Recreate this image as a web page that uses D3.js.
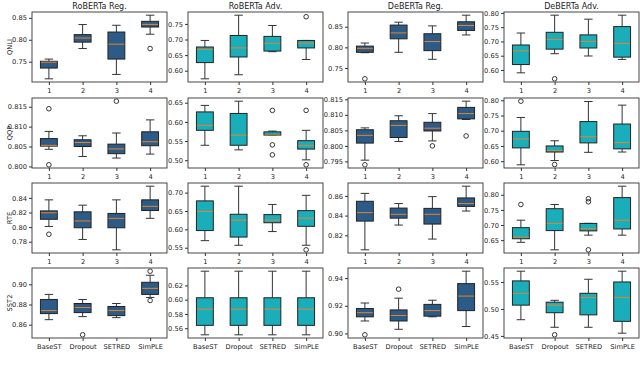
<!DOCTYPE html>
<html>
<head>
<meta charset="utf-8">
<script src="https://cdn.jsdelivr.net/npm/d3@7"></script>
<style>
  body { margin: 0; background: #fff; }
  svg { display: block; font-family: "DejaVu Sans", sans-serif; }
</style>
</head>
<body>
<svg id="chart" width="640" height="369"></svg>
<script>
// column titles, row labels, box labels
var models = ["RoBERTa Reg.", "RoBERTa Adv.", "DeBERTa Reg.", "DeBERTa Adv."];
var tasks = ["QNLI", "QQP", "RTE", "SST2"];
var methods = ["BaseST", "Dropout", "SETRED", "SimPLE"];
var numLabels = ["1", "2", "3", "4"];

// each box: [whisker low, q1, median, q3, whisker high], one panel per model
var qnliBoxes = [
  [[0.711,0.7355,0.749,0.751,0.756],[0.780,0.7946,0.804,0.8117,0.8346],[0.721,0.756,0.790,0.8176,0.833],[0.8126,0.829,0.835,0.842,0.856]],
  [[0.574,0.626,0.668,0.676,0.697],[0.587,0.644,0.673,0.713,0.778],[0.661,0.663,0.688,0.710,0.745],[0.636,0.673,0.688,0.697,0.697]],
  [[0.787,0.788,0.7976,0.803,0.8105],[0.788,0.8207,0.835,0.854,0.861],[0.771,0.792,0.814,0.833,0.852],[0.830,0.841,0.853,0.862,0.878]],
  [[0.590,0.619,0.667,0.6876,0.7295],[0.657,0.673,0.707,0.732,0.792],[0.649,0.677,0.700,0.723,0.778],[0.637,0.645,0.693,0.752,0.792]]
];
var qqpBoxes = [
  [[0.8043,0.8051,0.8053,0.8070,0.8088],[0.8025,0.8050,0.8060,0.8067,0.8077],[0.8021,0.8032,0.8044,0.8056,0.8084],[0.8031,0.8052,0.8062,0.8087,0.8117]],
  [[0.539,0.578,0.591,0.626,0.643],[0.527,0.539,0.5655,0.622,0.654],[0.5655,0.5655,0.5658,0.574,0.576],[0.501,0.529,0.538,0.551,0.578]],
  [[0.7954,0.8009,0.8034,0.8052,0.8058],[0.8014,0.8027,0.8066,0.8081,0.8097],[0.8016,0.8048,0.8057,0.8076,0.8104],[0.8085,0.8087,0.8104,0.8124,0.8144]],
  [[0.588,0.6436,0.673,0.698,0.7436],[0.602,0.630,0.635,0.650,0.667],[0.629,0.660,0.680,0.730,0.796],[0.630,0.6404,0.661,0.722,0.784]]
];
var rteBoxes = [
  [[0.8009,0.8107,0.8196,0.8222,0.8373],[0.7831,0.7991,0.8084,0.8209,0.830],[0.7689,0.7991,0.812,0.8187,0.8373],[0.812,0.8227,0.8284,0.8373,0.856]],
  [[0.5692,0.5967,0.649,0.6775,0.7175],[0.5567,0.579,0.6251,0.6411,0.7175],[0.594,0.618,0.6251,0.6402,0.6678],[0.5567,0.6083,0.6305,0.6509,0.6926]],
  [[0.8053,0.8344,0.843,0.8545,0.8625],[0.8304,0.8374,0.8413,0.8476,0.8522],[0.8162,0.8314,0.8413,0.8473,0.8592],[0.8446,0.8493,0.8522,0.8579,0.8698]],
  [[0.6428,0.6546,0.660,0.6914,0.716],[0.618,0.6816,0.7054,0.754,0.768],[0.6665,0.6806,0.688,0.7054,0.7054],[0.6665,0.687,0.716,0.7907,0.8285]]
];
var sst2Boxes = [
  [[0.865,0.871,0.874,0.885,0.890],[0.868,0.872,0.877,0.881,0.885],[0.867,0.869,0.874,0.878,0.881],[0.887,0.890,0.896,0.902,0.909]],
  [[0.5507,0.564,0.5867,0.6027,0.640],[0.5507,0.564,0.5867,0.6027,0.640],[0.5507,0.564,0.5867,0.6027,0.640],[0.5507,0.564,0.5867,0.6027,0.640]],
  [[0.909,0.912,0.915,0.918,0.922],[0.903,0.909,0.913,0.917,0.9255],[0.912,0.9125,0.9165,0.921,0.924],[0.905,0.9165,0.927,0.936,0.945]],
  [[0.480,0.507,0.529,0.552,0.570],[0.466,0.493,0.507,0.5125,0.516],[0.466,0.489,0.521,0.529,0.555],[0.455,0.477,0.521,0.550,0.570]]
];

// outliers: [box index, value]
var qnliOutliers = [[[3,0.780]], [[3,0.773]], [[0,0.7237]], [[1,0.569]]];
var qqpOutliers = [[[0,0.8145],[0,0.8004],[2,0.8164]], [[2,0.630],[2,0.540],[2,0.514],[3,0.630],[3,0.488]], [[0,0.7939],[2,0.8000],[3,0.8032]], [[0,0.797],[1,0.589]]];
var rteOutliers = [[[0,0.7902]], [[3,0.5443]], [], [[0,0.768],[2,0.787],[2,0.777],[2,0.618]]];
var sst2Outliers = [[[1,0.850],[3,0.913],[3,0.884]], [], [[0,0.899],[1,0.932]], [[1,0.452]]];

// y tick values per panel
var qnliTicks = [[0.75,0.80,0.85],[0.60,0.65,0.70,0.75],[0.75,0.80,0.85],[0.60,0.65,0.70,0.75,0.80]];
var qqpTicks = [[0.800,0.805,0.810,0.815],[0.50,0.55,0.60,0.65],[0.795,0.800,0.805,0.810,0.815],[0.60,0.65,0.70,0.75,0.80]];
var rteTicks = [[0.78,0.80,0.82,0.84],[0.55,0.60,0.65,0.70],[0.82,0.84,0.86],[0.65,0.70,0.75,0.80]];
var sst2Ticks = [[0.86,0.88,0.90],[0.56,0.58,0.60,0.62],[0.90,0.92,0.94],[0.45,0.50,0.55]];

var allBoxes = [qnliBoxes, qqpBoxes, rteBoxes, sst2Boxes];
var allOutliers = [qnliOutliers, qqpOutliers, rteOutliers, sst2Outliers];
var allTicks = [qnliTicks, qqpTicks, rteTicks, sst2Ticks];

var regColor = "#2b5b86";
var advColor = "#1aadba";
var medianColor = "#e8832a";

var colLeft = [32, 188, 348, 504];
var rowTop = [12, 98, 183, 268];
var panelW = 135;
var panelH = 70;

var svg = d3.select("#chart");

for (var r = 0; r < tasks.length; r++) {
  for (var c = 0; c < models.length; c++) {
    drawPanel(r, c);
  }
}

// column titles
svg.selectAll("text.title")
  .data(models)
  .enter().append("text")
  .attr("class", "title")
  .attr("x", function(d, i) { return colLeft[i] + panelW / 2; })
  .attr("y", 8.5)
  .attr("text-anchor", "middle")
  .style("font-size", "8px")
  .style("fill", "#222")
  .text(function(d) { return d; });

// row labels
svg.selectAll("text.rowlabel")
  .data(tasks)
  .enter().append("text")
  .attr("class", "rowlabel")
  .attr("transform", function(d, i) { return "translate(10," + (rowTop[i] + panelH / 2) + ") rotate(-90)"; })
  .attr("text-anchor", "middle")
  .attr("dy", "0.35em")
  .style("font-size", "6.7px")
  .style("fill", "#222")
  .text(function(d) { return d; });

function drawPanel(r, c) {
  var boxes = allBoxes[r][c];
  var outs = allOutliers[r][c];
  var ticks = allTicks[r][c];

  // matplotlib-like autoscale: data range plus 5% margin
  var vals = [];
  boxes.forEach(function(b) { vals = vals.concat(b); });
  outs.forEach(function(o) { vals.push(o[1]); });
  var lo = d3.min(vals), hi = d3.max(vals), pad = (hi - lo) * 0.05;

  var g = svg.append("g").attr("transform", "translate(" + colLeft[c] + "," + rowTop[r] + ")");

  var x = d3.scaleLinear().domain([0.5, 4.5]).range([0, panelW]);
  var y = d3.scaleLinear().domain([lo - pad, hi + pad]).range([panelH, 0]);

  var fill = (c % 2 === 0) ? regColor : advColor;
  var bw = x(1.25) - x(1);   // box half-width (box width 0.5)
  var cw = bw / 2;           // cap half-width

  var bg = g.selectAll("g.box").data(boxes).enter().append("g").attr("class", "box");

  // whiskers
  bg.append("line")
    .attr("x1", function(d, i) { return x(i + 1); })
    .attr("x2", function(d, i) { return x(i + 1); })
    .attr("y1", function(d) { return y(d[0]); })
    .attr("y2", function(d) { return y(d[1]); })
    .style("stroke", "#333").style("stroke-width", 1);
  bg.append("line")
    .attr("x1", function(d, i) { return x(i + 1); })
    .attr("x2", function(d, i) { return x(i + 1); })
    .attr("y1", function(d) { return y(d[3]); })
    .attr("y2", function(d) { return y(d[4]); })
    .style("stroke", "#333").style("stroke-width", 1);
  // caps
  [0, 4].forEach(function(k) {
    bg.append("line")
      .attr("x1", function(d, i) { return x(i + 1) - cw; })
      .attr("x2", function(d, i) { return x(i + 1) + cw; })
      .attr("y1", function(d) { return y(d[k]); })
      .attr("y2", function(d) { return y(d[k]); })
      .style("stroke", "#333").style("stroke-width", 1);
  });
  // box
  bg.append("rect")
    .attr("x", function(d, i) { return x(i + 1) - bw; })
    .attr("width", bw * 2)
    .attr("y", function(d) { return y(d[3]); })
    .attr("height", function(d) { return Math.max(0.5, y(d[1]) - y(d[3])); })
    .style("fill", fill)
    .style("stroke", "#222").style("stroke-width", 1);
  // median
  bg.append("line")
    .attr("x1", function(d, i) { return x(i + 1) - bw + 0.5; })
    .attr("x2", function(d, i) { return x(i + 1) + bw - 0.5; })
    .attr("y1", function(d) { return y(d[2]); })
    .attr("y2", function(d) { return y(d[2]); })
    .style("stroke", medianColor).style("stroke-width", 1);

  // outliers
  g.selectAll("circle.flier").data(outs).enter().append("circle")
    .attr("class", "flier")
    .attr("cx", function(d) { return x(d[0] + 1); })
    .attr("cy", function(d) { return y(d[1]); })
    .attr("r", 2.3)
    .style("fill", "none")
    .style("stroke", "#222").style("stroke-width", 0.9);

  // axes
  var step = ticks[1] - ticks[0];
  var fmt = d3.format("." + d3.precisionFixed(step) + "f");
  var yAxis = g.append("g")
    .call(d3.axisLeft(y).tickValues(ticks).tickFormat(fmt).tickSize(3).tickPadding(2));
  var xAxis = g.append("g")
    .attr("transform", "translate(0," + panelH + ")")
    .call(d3.axisBottom(x).tickValues([1, 2, 3, 4])
      .tickFormat(function(d) { return r === 3 ? methods[d - 1] : numLabels[d - 1]; })
      .tickSize(3).tickPadding(3));
  [yAxis, xAxis].forEach(function(a) {
    a.select(".domain").remove();
    a.selectAll("line").style("stroke", "#333");
    a.selectAll("text").style("font-size", "6.7px").style("fill", "#222")
      .style("font-family", "DejaVu Sans, sans-serif");
  });

  // frame
  g.append("rect")
    .attr("width", panelW).attr("height", panelH)
    .style("fill", "none").style("stroke", "#333").style("stroke-width", 0.9);
}
</script>
</body>
</html>
